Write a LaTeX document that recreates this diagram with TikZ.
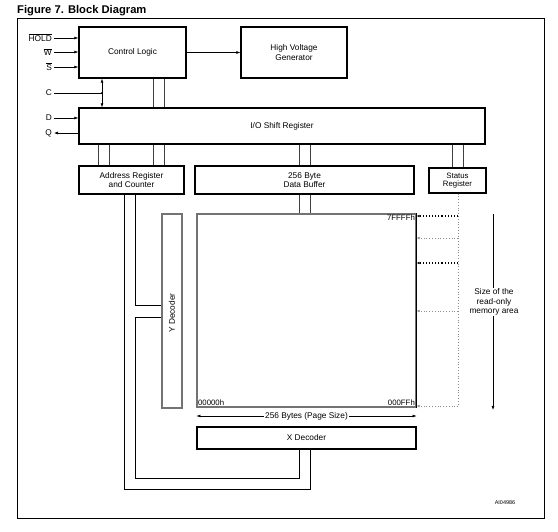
\documentclass[tikz,border=0pt]{standalone}
\usepackage{fontspec}
\setmainfont{Liberation Sans}
\usetikzlibrary{arrows.meta}
\begin{document}
\begin{tikzpicture}[x=1pt,y=-1pt,
  font=\fontsize{8.3}{9.3}\selectfont,
  box/.style={draw, line width=1.4pt, inner sep=0pt, align=center},
  graybox/.style={draw=black!55, line width=1.1pt, inner sep=0pt},
  wire/.style={line width=0.6pt},
  bus/.style={line width=0.6pt, draw=black!75},
  arr/.style={wire, -{Latex[length=4pt,width=3pt]}},
  arrboth/.style={wire, {Latex[length=4pt,width=3pt]}-{Latex[length=4pt,width=3pt]}},
  pin/.style={anchor=east, inner sep=2pt},
  dotg/.style={line width=0.8pt, draw=black!45, dotted},
  dotb/.style={line width=1.1pt, draw=black, dotted},
  tip/.style={-{Latex[length=3pt,width=2.5pt]}},
  small/.style={inner sep=1.5pt, font=\fontsize{7.8}{9}\selectfont}
]
\useasboundingbox (0,0) rectangle (558,532);
\node[anchor=west, inner sep=0pt, font=\bfseries\fontsize{11.2}{12}\selectfont] (title) at (17,11) {Figure 7. Block Diagram};
\draw[line width=0.9pt] (17,18) rectangle (544,518);

% boxes
\node[box, minimum width=107pt, minimum height=51pt] (ctrl) at (132.5,52.5) {Control Logic};
\node[box, minimum width=106pt, minimum height=51pt] (hv) at (294,52.5) {High Voltage\\Generator};
\node[box, minimum width=406pt, minimum height=36pt] (io) at (282,126) {I/O Shift Register};
\node[box, minimum width=105pt, minimum height=28pt] (addr) at (131.5,180) {Address Register\\and Counter};
\node[box, minimum width=219pt, minimum height=28pt] (buf) at (304.5,180) {256 Byte\\Data Buffer};
\node[box, minimum width=57pt, minimum height=25pt, font=\fontsize{7.8}{8.4}\selectfont] (stat) at (457.5,180.5) {Status\\Register};
\node[graybox, minimum width=219pt, minimum height=193pt] (mem) at (306.5,310.5) {};
\draw[line width=1pt] (mem.north east) -- (mem.south east);
\node[graybox, minimum width=20pt, minimum height=194pt] (ydec) at (172,311) {};
\node[rotate=90] (ytext) at (172,313) {Y Decoder};
\node[box, minimum width=219pt, minimum height=22pt] (xdec) at (306.5,438) {X Decoder};

% pins
\node[pin] (hold) at (54,38) {$\overline{\mbox{HOLD}}$};
\node[pin] (w) at (54,52) {$\overline{\mbox{W}}$};
\node[pin] (s) at (54,67) {$\overline{\mbox{S}}$};
\node[pin] (c) at (54,93) {C};
\node[pin] (d) at (54,118) {D};
\node[pin] (q) at (54,133) {Q};
\draw[arr] (hold.east) -- (ctrl.west |- hold.east);
\draw[arr] (w.east) -- (ctrl.west |- w.east);
\draw[arr] (s.east) -- (ctrl.west |- s.east);
\draw[arr] (d.east) -- (io.west |- d.east);
\draw[arr] (io.west |- q.east) -- (q.east);
\coordinate (cj) at (102,93);
\draw[wire] (c.east) -- (cj);
\fill (cj) circle (1.2pt);
\draw[arrboth] (102,0 |- ctrl.south) -- (102,0 |- io.north);
\draw[arr] (ctrl.east) -- (hv.west);

% buses
\foreach \x in {153,164} \draw[bus] (\x,0 |- ctrl.south) -- (\x,0 |- io.north);
\foreach \x in {98,109,153,164} \draw[bus] (\x,0 |- io.south) -- (\x,0 |- addr.north);
\foreach \x in {299,310} {
  \draw[bus] (\x,0 |- io.south) -- (\x,0 |- buf.north);
  \draw[bus] (\x,0 |- buf.south) -- (\x,0 |- mem.north);
}
\foreach \x in {452,463} \draw[bus] (\x,0 |- io.south) -- (\x,0 |- stat.north);

% address lines to decoders
\draw[wire] (124,0 |- addr.south) -- (124,489) -- (310,489) -- (310,0 |- xdec.south);
\draw[wire] (135,0 |- addr.south) -- (135,305) -- (ydec.west |- 0,305);
\draw[wire] (ydec.west |- 0,317) -- (135,317) -- (135,478) -- (299,478) -- (299,0 |- xdec.south);

% memory labels
\node[small, anchor=north east] (a7) at (mem.north east) {7FFFFh};
\node[small, anchor=south west] (a0) at (mem.south west) {00000h};
\node[small, anchor=south east] (aF) at (mem.south east) {000FFh};

% page size
\node[fill=white, inner sep=1.5pt] (pg) at (306.5,416) {256 Bytes (Page Size)};
\draw[arr] (pg.west) -- (mem.west |- pg.west);
\draw[arr] (pg.east) -- (mem.east |- pg.east);

% status register dotted lines
\draw[dotg] (458,0 |- stat.south) -- (458,406);
\draw[dotb, tip] (458,216) -- (mem.east |- 0,216);
\draw[dotg, tip] (458,238) -- (mem.east |- 0,238);
\draw[dotb, tip] (458,263) -- (mem.east |- 0,263);
\draw[dotg, tip] (458,311) -- (mem.east |- 0,311);
\draw[dotg, tip] (458,406) -- (mem.east |- 0,406);

% size arrow
\node[fill=white, inner sep=1pt, align=center] (sz) at (494,302) {Size of the\\read-only\\memory area};
\coordinate (sztop) at (493,214);
\coordinate (szbot) at (493,410);
\draw[wire] (sztop) -- (sz.north -| sztop);
\draw[arr] (sz.south -| szbot) -- (szbot);

\node[font=\fontsize{5.5}{6}\selectfont] (ai) at (505,503) {AI04986};
\end{tikzpicture}
\end{document}
